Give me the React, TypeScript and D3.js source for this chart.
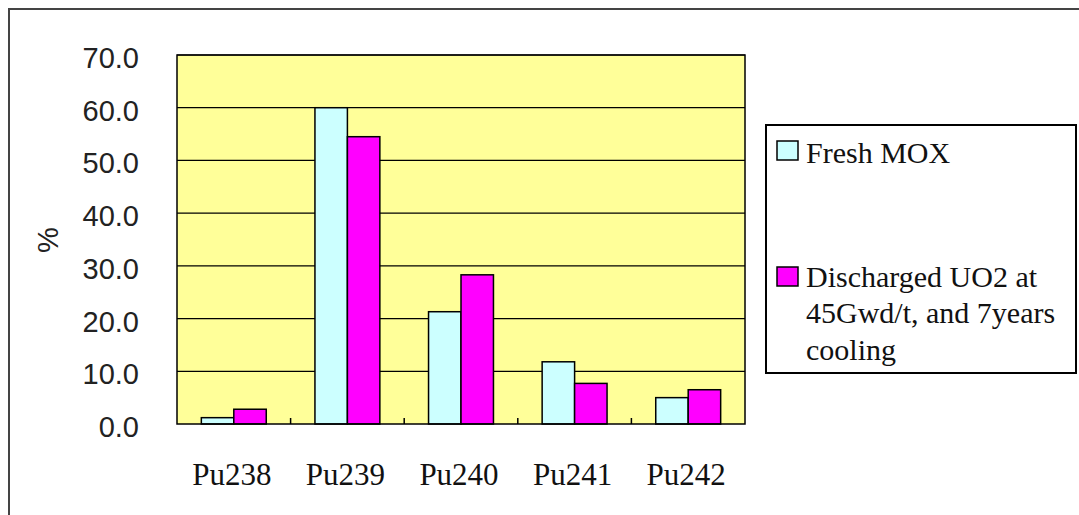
import React from "react";
import * as d3 from "d3";

const width = 1079;
const height = 515;

// isotopes and their shares (%)
const isotopes = ["Pu238", "Pu239", "Pu240", "Pu241", "Pu242"];
const freshMox = [1.2, 60.0, 21.3, 11.8, 5.0];
const dischargedUo2 = [2.8, 54.5, 28.3, 7.7, 6.5];
const seriesNames = ["Fresh MOX", "Discharged UO2 at 45Gwd/t, and 7years cooling"];
const seriesColors = ["#CCFFFF", "#FF00FF"];
const yTicks = [0, 10, 20, 30, 40, 50, 60, 70];

const plot = { left: 177, right: 745, top: 55, bottom: 424 };

const sansFont = "'Liberation Sans', Arial, sans-serif";
const serifFont = "'Liberation Serif', 'Times New Roman', serif";

export default function App() {
  const x = d3.scaleBand<string>().domain(isotopes).range([plot.left, plot.right]).padding(0);
  const inner = d3
    .scaleBand<number>()
    .domain([0, 1])
    .range([0, x.step()])
    .paddingInner(0)
    .paddingOuter(0.75);
  const y = d3.scaleLinear().domain([0, 70]).range([plot.bottom, plot.top]);

  const series = [freshMox, dischargedUo2];

  return (
    <svg
      width={width}
      height={height}
      style={{ position: "absolute", left: 0, top: 0, background: "#fff" }}
    >
      {/* outer chart border, runs off the page to the right and bottom */}
      <rect x={9} y={9} width={1200} height={700} fill="#fff" stroke="#444" strokeWidth={2} />

      {/* plot area */}
      <rect
        x={plot.left}
        y={plot.top}
        width={plot.right - plot.left}
        height={plot.bottom - plot.top}
        fill="#FFFF99"
      />
      {yTicks.slice(1).map((t) => (
        <line
          key={t}
          x1={plot.left}
          x2={plot.right}
          y1={y(t)}
          y2={y(t)}
          stroke="#000"
          strokeWidth={1.2}
        />
      ))}

      {/* bars */}
      {isotopes.map((iso, i) => (
        <g key={iso} transform={`translate(${x(iso)},0)`}>
          {series.map((vals, s) => (
            <rect
              key={s}
              x={inner(s)}
              y={y(vals[i])}
              width={inner.bandwidth()}
              height={y(0) - y(vals[i])}
              fill={seriesColors[s]}
              stroke="#000"
              strokeWidth={1.5}
            />
          ))}
        </g>
      ))}

      <rect
        x={plot.left}
        y={plot.top}
        width={plot.right - plot.left}
        height={plot.bottom - plot.top}
        fill="none"
        stroke="#000"
        strokeWidth={1.5}
      />

      {/* category boundary ticks */}
      {isotopes.slice(1).map((iso) => (
        <line
          key={iso}
          x1={x(iso)}
          x2={x(iso)}
          y1={plot.bottom}
          y2={plot.bottom - 6}
          stroke="#000"
          strokeWidth={1.5}
        />
      ))}

      {/* y labels */}
      {yTicks.map((t) => (
        <text
          key={t}
          x={139}
          y={y(t) + 13}
          textAnchor="end"
          fontFamily={sansFont}
          fontSize={29}
          fill="#222"
        >
          {t.toFixed(1)}
        </text>
      ))}
      <text
        transform="translate(58,240) rotate(-90)"
        textAnchor="middle"
        fontFamily={sansFont}
        fontSize={29}
        fill="#222"
      >
        %
      </text>

      {/* x labels */}
      {isotopes.map((iso) => (
        <text
          key={iso}
          x={(x(iso) ?? 0) + x.bandwidth() / 2 - 2}
          y={485}
          textAnchor="middle"
          fontFamily={serifFont}
          fontSize={31}
          fill="#111"
        >
          {iso}
        </text>
      ))}

      {/* legend */}
      <rect x={766} y={125} width={310} height={248} fill="#fff" stroke="#000" strokeWidth={2} />
      <rect x={777} y={141} width={21} height={19} fill={seriesColors[0]} stroke="#000" strokeWidth={1.5} />
      <text x={806} y={163} fontFamily={serifFont} fontSize={30} fill="#111">
        {seriesNames[0]}
      </text>
      <rect x={777} y={267} width={21} height={19} fill={seriesColors[1]} stroke="#000" strokeWidth={1.5} />
      <text fontFamily={serifFont} fontSize={30} fill="#111">
        <tspan x={806} y={287}>Discharged UO2 at</tspan>
        <tspan x={806} y={323}>45Gwd/t, and 7years</tspan>
        <tspan x={806} y={360}>cooling</tspan>
      </text>
    </svg>
  );
}
